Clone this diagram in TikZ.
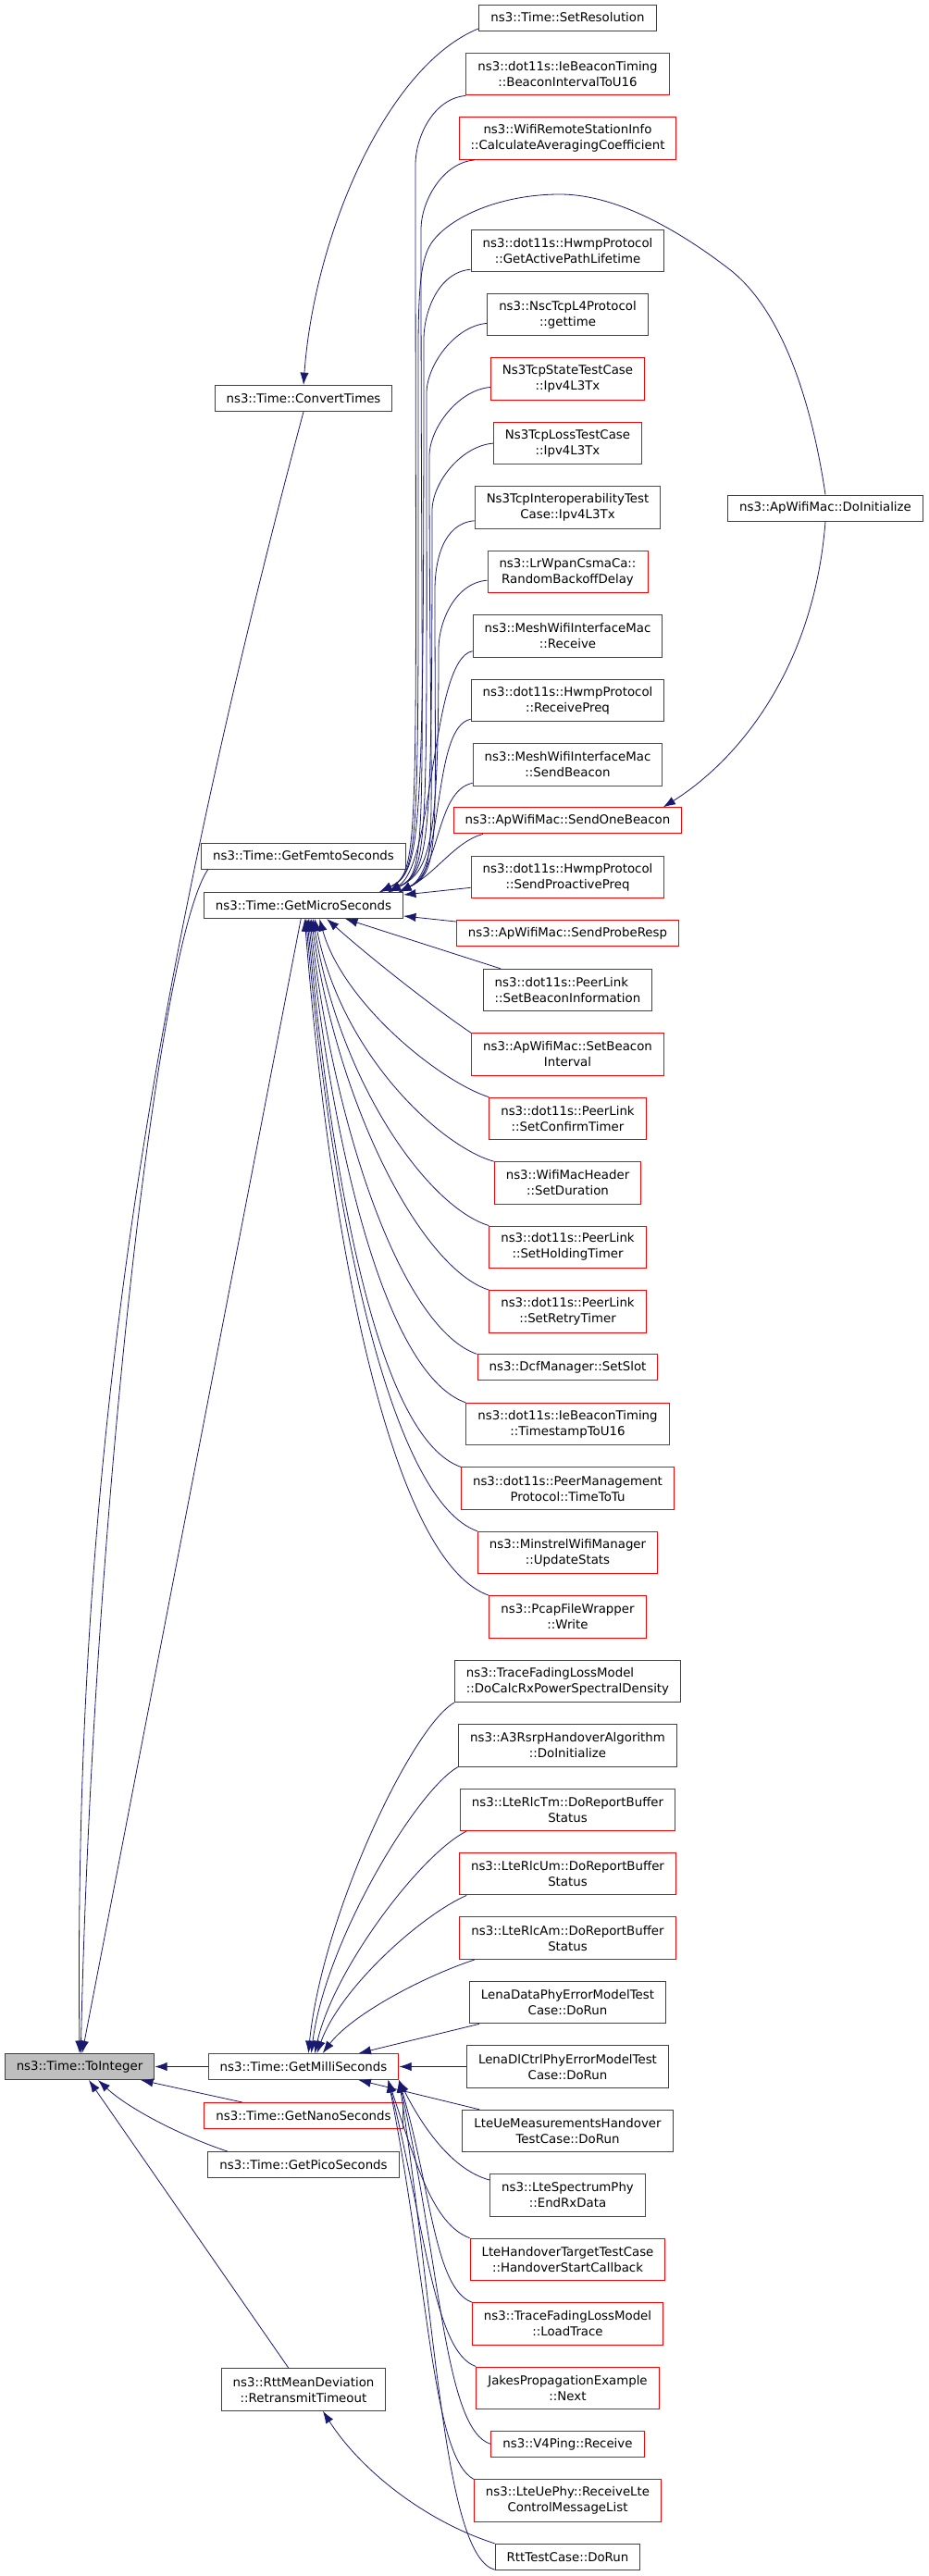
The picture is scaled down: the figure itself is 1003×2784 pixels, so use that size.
\documentclass[tikz,border=0pt]{standalone}
\usepackage{fontspec}
\setmainfont{DejaVu Sans}
\usetikzlibrary{arrows.meta}
\definecolor{edgeblue}{HTML}{191970}
\definecolor{keygray}{HTML}{BFBFBF}
\begin{document}
\begin{tikzpicture}[
    x=0.75pt, y=-0.75pt,
    funcnode/.style={rectangle, draw=black!75, fill=white, line width=0.75pt, inner xsep=9.4pt, inner ysep=2pt, minimum height=21pt, align=center, font=\fontsize{10}{12.75}\selectfont},
    rednode/.style={funcnode, draw=red},
    twoline/.style={minimum height=34.1pt},
    call/.style={-{Latex[length=10pt,width=7pt]}, draw=edgeblue, line width=0.6pt},
]
    \useasboundingbox (0,0) rectangle (1003,2784);

    %Nodes
    \node[funcnode, fill=keygray] (toint) at (86,2233.5) {ns3::Time::ToInteger};

    \node[funcnode] (convert) at (328,430.5) {ns3::Time::ConvertTimes};
    \node[funcnode] (femto) at (328,925) {ns3::Time::GetFemtoSeconds};
    \node[funcnode] (micro) at (328,978.5) {ns3::Time::GetMicroSeconds};
    \node[rednode] (milli) at (328,2233.5) {ns3::Time::GetMilliSeconds};
    \node[rednode] (nano) at (328,2286.5) {ns3::Time::GetNanoSeconds};
    \node[funcnode] (pico) at (328,2339.5) {ns3::Time::GetPicoSeconds};
    \node[funcnode, twoline] (rto) at (328,2582.5) {ns3::RttMeanDeviation\\::RetransmitTimeout};

    \node[funcnode] (doinit) at (892,549) {ns3::ApWifiMac::DoInitialize};

    \node[funcnode] (setres) at (613.5,19) {ns3::Time::SetResolution};
    \node[rednode, twoline] (beaconint) at (613.5,80.2) {ns3::dot11s::IeBeaconTiming\\::BeaconIntervalToU16};
    \node[rednode, twoline] (calcavg) at (613.5,149.7) {ns3::WifiRemoteStationInfo\\::CalculateAveragingCoefficient};
    \node[funcnode, twoline] (activepath) at (613.5,270.8) {ns3::dot11s::HwmpProtocol\\::GetActivePathLifetime};
    \node[funcnode, twoline] (gettime) at (613.5,340.2) {ns3::NscTcpL4Protocol\\::gettime};
    \node[rednode, twoline] (tcpstate) at (613.5,409.7) {Ns3TcpStateTestCase\\::Ipv4L3Tx};
    \node[rednode, twoline] (tcploss) at (613.5,479.1) {Ns3TcpLossTestCase\\::Ipv4L3Tx};
    \node[rednode, twoline] (tcpinterop) at (613.5,548.6) {Ns3TcpInteroperabilityTest\\Case::Ipv4L3Tx};
    \node[rednode, twoline] (backoff) at (613.5,618) {ns3::LrWpanCsmaCa::\\RandomBackoffDelay};
    \node[funcnode, twoline] (meshrecv) at (613.5,687.4) {ns3::MeshWifiInterfaceMac\\::Receive};
    \node[funcnode, twoline] (recvpreq) at (613.5,756.9) {ns3::dot11s::HwmpProtocol\\::ReceivePreq};
    \node[rednode, twoline] (sendbeacon) at (613.5,826.3) {ns3::MeshWifiInterfaceMac\\::SendBeacon};
    \node[rednode] (sendone) at (613.5,886.9) {ns3::ApWifiMac::SendOneBeacon};
    \node[rednode, twoline] (proactive) at (613.5,948.2) {ns3::dot11s::HwmpProtocol\\::SendProactivePreq};
    \node[rednode] (proberesp) at (613.5,1008.8) {ns3::ApWifiMac::SendProbeResp};
    \node[funcnode, twoline, align=left] (beaconinfo) at (613.5,1070.1) {ns3::dot11s::PeerLink\\::SetBeaconInformation};
    \node[rednode, twoline] (beaconival) at (613.5,1139.5) {ns3::ApWifiMac::SetBeacon\\Interval};
    \node[rednode, twoline] (confirm) at (613.5,1208.9) {ns3::dot11s::PeerLink\\::SetConfirmTimer};
    \node[rednode, twoline] (duration) at (613.5,1278.4) {ns3::WifiMacHeader\\::SetDuration};
    \node[rednode, twoline] (holding) at (613.5,1347.8) {ns3::dot11s::PeerLink\\::SetHoldingTimer};
    \node[rednode, twoline] (retry) at (613.5,1417.3) {ns3::dot11s::PeerLink\\::SetRetryTimer};
    \node[rednode] (setslot) at (613.5,1477.9) {ns3::DcfManager::SetSlot};
    \node[rednode, twoline] (timestamp) at (613.5,1539.1) {ns3::dot11s::IeBeaconTiming\\::TimestampToU16};
    \node[rednode, twoline] (timetotu) at (613.5,1608.6) {ns3::dot11s::PeerManagement\\Protocol::TimeToTu};
    \node[rednode, twoline] (minstrel) at (613.5,1678) {ns3::MinstrelWifiManager\\::UpdateStats};
    \node[rednode, twoline] (pcap) at (613.5,1747.5) {ns3::PcapFileWrapper\\::Write};
    \node[funcnode, twoline, align=left] (docalc) at (613.5,1816.9) {ns3::TraceFadingLossModel\\::DoCalcRxPowerSpectralDensity};
    \node[funcnode, twoline] (a3rsrp) at (613.5,1886.3) {ns3::A3RsrpHandoverAlgorithm\\::DoInitialize};
    \node[rednode, twoline] (rlctm) at (613.5,1955.8) {ns3::LteRlcTm::DoReportBuffer\\Status};
    \node[rednode, twoline] (rlcum) at (613.5,2025.2) {ns3::LteRlcUm::DoReportBuffer\\Status};
    \node[rednode, twoline] (rlcam) at (613.5,2094.7) {ns3::LteRlcAm::DoReportBuffer\\Status};
    \node[funcnode, twoline] (lenadata) at (613.5,2164.1) {LenaDataPhyErrorModelTest\\Case::DoRun};
    \node[funcnode, twoline] (lenadl) at (613.5,2233.5) {LenaDlCtrlPhyErrorModelTest\\Case::DoRun};
    \node[funcnode, twoline] (uemeas) at (613.5,2303) {LteUeMeasurementsHandover\\TestCase::DoRun};
    \node[rednode, twoline] (endrx) at (613.5,2372.4) {ns3::LteSpectrumPhy\\::EndRxData};
    \node[rednode, twoline] (handover) at (613.5,2441.9) {LteHandoverTargetTestCase\\::HandoverStartCallback};
    \node[rednode, twoline] (loadtrace) at (613.5,2511.3) {ns3::TraceFadingLossModel\\::LoadTrace};
    \node[rednode, twoline] (jakes) at (613.5,2580.7) {JakesPropagationExample\\::Next};
    \node[rednode] (v4ping) at (613.5,2641.4) {ns3::V4Ping::Receive};
    \node[rednode, twoline] (ctrlmsg) at (613.5,2702.6) {ns3::LteUePhy::ReceiveLte\\ControlMessageList};
    \node[funcnode] (rtttest) at (613.5,2763.3) {RttTestCase::DoRun};

    %Lines
    \draw[call] (convert.south) .. controls (140,1150) and (80,1650) .. (toint.north);
    \draw[call] (femto.188) .. controls (170,1020) and (100,1650) .. (toint.85);
    \draw[call] (micro) -- (toint);
    \draw[call] (milli) -- (toint);
    \draw[call] (nano) -- (toint);
    \draw[call] (pico.170) .. controls (200,2310) and (140,2280) .. (toint.-36);
    \draw[call] (rto) -- (toint);

    \draw[call] (setres.187) .. controls (420,70) and (340,250) .. (convert.north);

    \draw[call] (beaconint.south west) .. controls +(-35,3) and +(0,-30) .. (449,178) .. controls (449,915) and +(45,-22) .. (micro.10);
    \draw[call] (calcavg.193) .. controls +(-35,3) and +(0,-30) .. (455,248) .. controls (455,915) and +(45,-22) .. (micro.9);
    \draw[call] (activepath.191) .. controls +(-35,3) and +(0,-30) .. (458,367) .. controls (458,915) and +(45,-22) .. (micro.10);
    \draw[call] (gettime.186) .. controls +(-35,3) and +(0,-30) .. (461,425) .. controls (461,915) and +(45,-22) .. (micro.9);
    \draw[call] (tcpstate.186) .. controls +(-35,3) and +(0,-30) .. (464,493) .. controls (464,915) and +(45,-22) .. (micro.8);
    \draw[call] (tcploss.west) .. controls +(-35,3) and +(0,-30) .. (467,552) .. controls (467,915) and +(45,-22) .. (micro.9);
    \draw[call] (tcpinterop.188) .. controls +(-35,3) and +(0,-30) .. (470,638) .. controls (470,915) and +(45,-22) .. (micro.8);
    \draw[call] (backoff.186) .. controls +(-35,3) and +(0,-30) .. (474,702) .. controls (474,915) and +(45,-22) .. (micro.9);
    \draw[call] (meshrecv.189) .. controls +(-45,8) and +(50,-30) .. (micro.9);
    \draw[call] (recvpreq.191) .. controls +(-42,8) and +(50,-25) .. (micro.8);
    \draw[call] (sendbeacon.191) .. controls +(-40,8) and +(45,-22) .. (micro.8);
    \draw[call] (sendone.189) .. controls +(-30,8) and +(40,-20) .. (micro.8);

    \draw[call] (doinit.north) .. controls (875,420) and (840,330) .. (787,290) .. controls (740,254) and (670,210) .. (605,210) .. controls (540,210) and (485,235) .. (466,263) .. controls (455,280) and (452,310) .. (452,380) .. controls (452,915) and +(45,-22) .. (micro.10);
    \draw[call] (doinit.south) .. controls (880,720) and (800,820) .. (sendone.8);

    \draw[call] (proactive) -- (micro);
    \draw[call] (proberesp) -- (micro);
    \draw[call] (beaconinfo) -- (micro);
    \draw[call] (beaconival.north west) .. controls (470,1090) and (400,1035) .. (micro.-30);
    \draw[call] (confirm.north west) .. controls +(-55,-18) and +(25,90) .. (micro.-40);
    \draw[call] (duration.north west) .. controls +(-55,-15) and +(30,150) .. (micro.-50);
    \draw[call] (holding.north west) .. controls +(-65,-20) and +(30,180) .. (micro.-55);
    \draw[call] (retry.north west) .. controls +(-70,-22) and +(30,210) .. (micro.-60);
    \draw[call] (setslot.north west) .. controls +(-75,-25) and +(30,250) .. (micro.-65);
    \draw[call] (timestamp.north west) .. controls +(-80,-28) and +(30,280) .. (micro.-70);
    \draw[call] (timetotu.north west) .. controls +(-85,-30) and +(30,310) .. (micro.-75);
    \draw[call] (minstrel.north west) .. controls +(-90,-32) and +(30,340) .. (micro.-80);
    \draw[call] (pcap.north west) .. controls +(-100,-35) and +(30,380) .. (micro.-85);

    \draw[call] (docalc.south west) .. controls +(-45,25) and +(15,-150) .. (milli.70);
    \draw[call] (a3rsrp.south west) .. controls +(-45,25) and +(15,-120) .. (milli.60);
    \draw[call] (rlctm.192) .. controls +(-50,25) and +(20,-90) .. (milli.50);
    \draw[call] (rlcum.192) .. controls +(-50,22) and +(25,-70) .. (milli.45);
    \draw[call] (rlcam.193) .. controls +(-60,20) and +(30,-40) .. (milli.35);
    \draw[call] (lenadata) -- (milli);
    \draw[call] (lenadl) -- (milli);
    \draw[call] (uemeas) -- (milli);
    \draw[call] (endrx.169) .. controls +(-45,-12) and +(20,40) .. (milli.-8);
    \draw[call] (handover.north west) .. controls +(-40,-15) and +(30,90) .. (milli.-9);
    \draw[call] (loadtrace.north west) .. controls +(-40,-15) and +(35,120) .. (milli.-8);
    \draw[call] (jakes.north west) .. controls +(-45,-15) and +(40,160) .. (milli.-9);
    \draw[call] (v4ping.west) .. controls +(-50,-15) and +(45,200) .. (milli.-8);
    \draw[call] (ctrlmsg.north west) .. controls +(-45,-25) and +(45,230) .. (milli.-9);
    \draw[call] (rtttest.190) .. controls +(-55,-15) and +(40,260) .. (milli.-8);
    \draw[call] (rtttest.north west) .. controls (460,2725) and (390,2670) .. (rto.-48);
\end{tikzpicture}
\end{document}
